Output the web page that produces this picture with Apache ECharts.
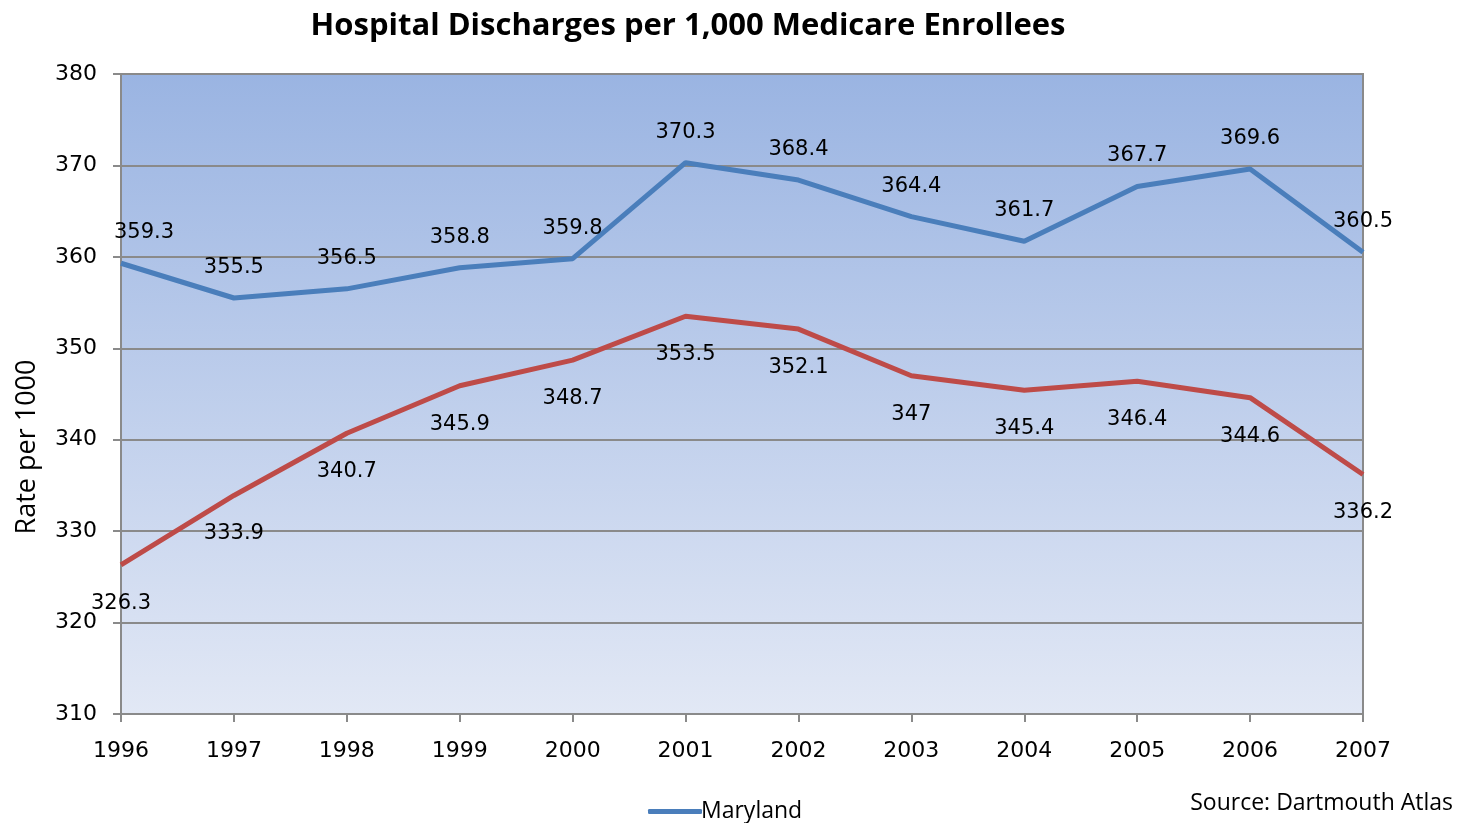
<!DOCTYPE html>
<html>
<head>
<meta charset="utf-8">
<script src="https://cdn.jsdelivr.net/npm/echarts@6/dist/echarts.min.js"></script>
<style>
html,body{margin:0;padding:0;background:#fff;}
#chart{width:1467px;height:823px;}
</style>
</head>
<body>
<div id="chart"></div>
<script>
const years = ['1996','1997','1998','1999','2000','2001','2002','2003','2004','2005','2006','2007'];
const maryland = [359.3,355.5,356.5,358.8,359.8,370.3,368.4,364.4,361.7,367.7,369.6,360.5];
const second = [326.3,333.9,340.7,345.9,348.7,353.5,352.1,347,345.4,346.4,344.6,336.2];
const yTicks = [310,320,330,340,350,360,370,380];

const chart = echarts.init(document.getElementById('chart'));
const labelFont = {fontFamily:'DejaVu Sans', fontSize:21, color:'#000'};
const tickFont = {fontFamily:'DejaVu Sans', fontSize:22, color:'#000'};
chart.setOption({
  animation:false,
  title:{
    text:'Hospital Discharges per 1,000 Medicare Enrollees',
    left:683, top:6, textAlign:'center',
    textStyle:{fontFamily:'Open Sans', fontWeight:'bold', fontSize:31, color:'#000'}
  },
  legend:{
    data:['Maryland'],
    left:643, top:795,
    itemWidth:54, itemHeight:5, itemGap:6,
    icon:'roundRect',
    textStyle:{fontFamily:'Open Sans', fontSize:23, color:'#000', padding:[0,0,0,-6]}
  },
  graphic:[{
    type:'text', right:14, top:792,
    style:{text:'Source: Dartmouth Atlas', font:'23px "Open Sans"', fill:'#000'}
  }],
  grid:{
    left:121, right:104, top:74, bottom:109,
    show:true,
    borderColor:'#8a8a8a', borderWidth:2,
    backgroundColor:new echarts.graphic.LinearGradient(0,0,0,1,[
      {offset:0,color:'#9AB4E2'},
      {offset:1,color:'#E2E8F5'}
    ])
  },
  xAxis:{
    type:'category', data:years, boundaryGap:false,
    axisLine:{lineStyle:{color:'#8a8a8a', width:2}},
    axisTick:{show:true, alignWithLabel:true, length:8, lineStyle:{color:'#8a8a8a', width:2}},
    axisLabel:Object.assign({margin:26}, tickFont),
    splitLine:{show:false}
  },
  yAxis:{
    type:'value', min:yTicks[0], max:yTicks[yTicks.length-1], interval:10,
    name:'Rate per 1000', nameLocation:'middle', nameGap:80, nameRotate:90,
    nameTextStyle:{fontFamily:'Open Sans', fontSize:27, color:'#000', padding:[0,0,0,-106]},
    axisLine:{show:true, lineStyle:{color:'#8a8a8a', width:2}},
    axisTick:{show:true, length:8, lineStyle:{color:'#8a8a8a', width:2}},
    axisLabel:Object.assign({margin:24}, tickFont),
    splitLine:{lineStyle:{color:'#8a8a8a', width:2}}
  },
  series:[
    {
      name:'Maryland', type:'line', data:maryland,
      symbol:'circle', symbolSize:0, showSymbol:true,
      lineStyle:{color:'#4A7EBB', width:5}, itemStyle:{color:'#4A7EBB'},
      label:Object.assign({show:true, position:'top', distance:20}, labelFont),
      labelLayout:function(p){ return p.dataIndex===0 ? {dx:23} : {}; }
    },
    {
      name:'US', type:'line', data:second,
      symbol:'circle', symbolSize:0, showSymbol:true,
      lineStyle:{color:'#BE4B48', width:5}, itemStyle:{color:'#BE4B48'},
      label:Object.assign({show:true, position:'bottom', distance:28}, labelFont)
    }
  ]
});
</script>
</body>
</html>
